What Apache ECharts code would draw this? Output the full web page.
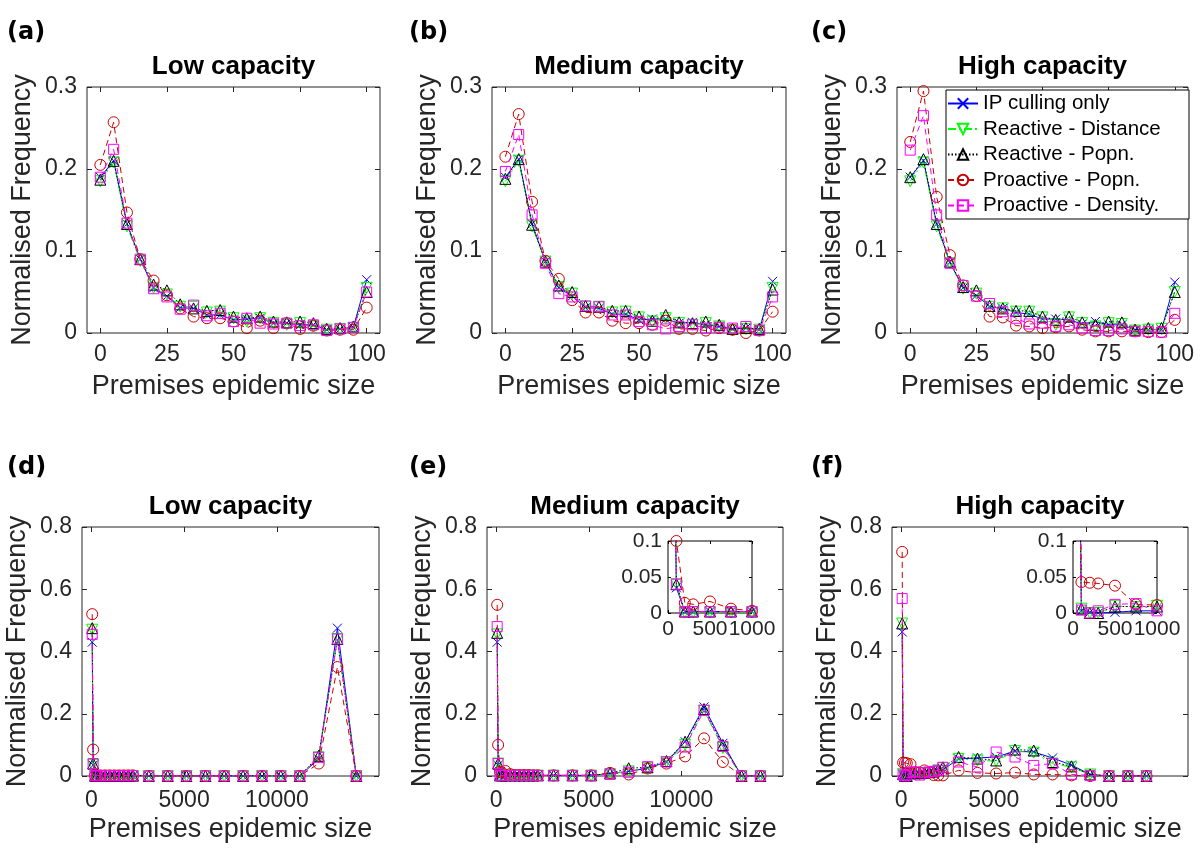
<!DOCTYPE html>
<html><head><meta charset="utf-8">
<script src="https://cdn.jsdelivr.net/npm/echarts@6/dist/echarts.min.js"></script>
<style>html,body{margin:0;padding:0;background:#fff}#c{width:1202px;height:848px}</style>
</head><body><div id="c"></div>
<script>
// ---------- data ----------
const X_TOP = [0,5,10,15,20,25,30,35,40,45,50,55,60,65,70,75,80,85,90,95,100];
const X_BOTTOM = [50,100,200,300,500,750,1000,1250,1500,1750,2000,2250,3100,4120,5130,6150,7160,8180,9200,10210,11230,12250,13260,14280];

const SERIES_NAMES = ['IP culling only','Reactive - Distance','Reactive - Popn.','Proactive - Popn.','Proactive - Density.'];
const PANEL_TITLES = ['Low capacity','Medium capacity','High capacity','Low capacity','Medium capacity','High capacity'];
const PANEL_TAGS = ['(a)','(b)','(c)','(d)','(e)','(f)'];
const X_LABEL = 'Premises epidemic size';
const Y_LABEL = 'Normalised Frequency';
const TOP_X_TICKS = [0,25,50,75,100];
const BOTTOM_X_TICKS = [0,5000,10000];
const INSET_X_TICKS = [0,500,1000];

// (a) low capacity, small epidemics
const A_IP = [0.190,0.210,0.133,0.090,0.055,0.045,0.031,0.030,0.022,0.022,0.016,0.017,0.018,0.012,0.012,0.010,0.010,0.004,0.005,0.007,0.065];
const A_RD = [0.185,0.208,0.130,0.088,0.055,0.047,0.032,0.032,0.025,0.026,0.018,0.014,0.018,0.012,0.010,0.012,0.008,0.004,0.005,0.006,0.055];
const A_RP = [0.187,0.210,0.133,0.090,0.059,0.052,0.035,0.030,0.027,0.028,0.020,0.018,0.020,0.014,0.013,0.014,0.012,0.005,0.006,0.008,0.050];
const A_PP = [0.205,0.257,0.147,0.090,0.064,0.046,0.030,0.020,0.018,0.018,0.014,0.006,0.015,0.006,0.012,0.005,0.009,0.003,0.004,0.004,0.031];
const A_PD = [0.190,0.224,0.134,0.090,0.054,0.044,0.029,0.034,0.021,0.024,0.014,0.018,0.012,0.011,0.012,0.009,0.010,0.003,0.005,0.007,0.050];
// (b) medium capacity, small epidemics
const B_IP = [0.190,0.212,0.133,0.087,0.055,0.045,0.031,0.030,0.023,0.023,0.016,0.017,0.017,0.012,0.013,0.010,0.008,0.005,0.006,0.004,0.063];
const B_RD = [0.185,0.210,0.130,0.087,0.056,0.048,0.032,0.032,0.025,0.026,0.019,0.014,0.018,0.012,0.010,0.012,0.008,0.003,0.005,0.004,0.055];
const B_RP = [0.188,0.212,0.132,0.087,0.058,0.050,0.033,0.032,0.027,0.027,0.020,0.015,0.022,0.013,0.012,0.014,0.010,0.005,0.006,0.005,0.053];
const B_PP = [0.215,0.267,0.160,0.088,0.066,0.040,0.025,0.025,0.015,0.012,0.012,0.010,0.015,0.005,0.005,0.003,0.006,0.004,0.000,0.003,0.026];
const B_PD = [0.197,0.242,0.144,0.085,0.048,0.044,0.033,0.032,0.022,0.022,0.014,0.010,0.005,0.008,0.010,0.006,0.007,0.006,0.008,0.003,0.044];
// (c) high capacity, small epidemics
const C_IP = [0.190,0.210,0.133,0.086,0.055,0.046,0.032,0.030,0.025,0.023,0.017,0.017,0.016,0.011,0.014,0.010,0.010,0.004,0.004,0.004,0.062];
const C_RD = [0.185,0.208,0.130,0.085,0.054,0.048,0.032,0.030,0.026,0.026,0.019,0.010,0.019,0.012,0.008,0.012,0.011,0.003,0.004,0.005,0.050];
const C_RP = [0.190,0.212,0.133,0.087,0.056,0.052,0.033,0.030,0.027,0.027,0.020,0.016,0.020,0.013,0.010,0.014,0.013,0.004,0.006,0.006,0.050];
const C_PP = [0.233,0.295,0.166,0.095,0.058,0.045,0.020,0.019,0.009,0.008,0.006,0.007,0.008,0.004,0.002,0.002,0.002,0.002,0.001,0.001,0.016];
const C_PD = [0.223,0.265,0.144,0.085,0.058,0.045,0.036,0.026,0.018,0.011,0.012,0.008,0.010,0.006,0.003,0.003,0.005,0.002,0.002,0.001,0.024];
// (d) low capacity, all epidemics
const D_IP = [0.430,0.035,0.001,0.001,0.001,0.001,0.001,0.001,0.001,0.001,0.001,0.001,0,0,0,0,0,0,0,0,0,0.055,0.475,0];
const D_RD = [0.470,0.035,0.000,0.000,0.000,0.000,0.000,0.000,0.000,0.000,0.000,0.000,0,0,0,0,0,0,0,0,0,0.060,0.440,0];
const D_RP = [0.475,0.040,0.001,0.001,0.001,0.001,0.001,0.001,0.001,0.001,0.001,0.001,0,0,0,0,0,0,0,0,0,0.065,0.440,0];
const D_PP = [0.520,0.085,0.002,0.002,0.002,0.002,0.002,0.002,0.002,0.002,0.002,0.002,0,0,0,0,0,0,0,0,0,0.040,0.350,0];
const D_PD = [0.455,0.040,0.001,0.001,0.001,0.001,0.001,0.001,0.001,0.001,0.001,0.001,0,0,0,0,0,0,0,0,0,0.060,0.440,0];
// (e) medium capacity, all epidemics
const E_IP = [0.430,0.035,0.002,0.002,0.002,0.002,0.002,0.002,0.002,0.002,0.002,0.002,0.002,0.002,0.002,0.008,0.015,0.025,0.045,0.110,0.222,0.105,0,0];
const E_RD = [0.455,0.040,0.001,0.001,0.001,0.001,0.001,0.001,0.001,0.001,0.001,0.001,0.001,0.001,0.001,0.006,0.015,0.025,0.045,0.100,0.210,0.090,0,0];
const E_RP = [0.460,0.040,0.002,0.002,0.002,0.002,0.002,0.002,0.002,0.002,0.002,0.002,0.002,0.002,0.002,0.008,0.025,0.028,0.048,0.110,0.215,0.100,0,0];
const E_PP = [0.550,0.100,0.014,0.012,0.016,0.006,0.003,0.003,0.003,0.003,0.002,0.002,0.002,0.002,0.002,0.010,0.005,0.024,0.040,0.063,0.121,0.045,0,0];
const E_PD = [0.480,0.040,0.002,0.002,0.002,0.002,0.002,0.002,0.002,0.002,0.002,0.002,0.002,0.002,0.002,0.006,0.012,0.030,0.045,0.093,0.211,0.095,0,0];
// (f) high capacity, all epidemics
const F_IP = [0.463,0.003,0.001,0.000,0.001,0.003,0.003,0.008,0.010,0.012,0.015,0.020,0.055,0.058,0.061,0.080,0.077,0.058,0.035,0.005,0,0,0];
const F_RD = [0.490,0.006,0.000,0.000,0.010,0.008,0.010,0.008,0.010,0.012,0.018,0.025,0.055,0.050,0.048,0.080,0.075,0.040,0.028,0.005,0,0,0];
const F_RP = [0.490,0.006,0.000,0.000,0.009,0.009,0.009,0.010,0.012,0.014,0.020,0.028,0.061,0.056,0.050,0.085,0.082,0.045,0.031,0.005,0,0,0];
const F_PP = [0.720,0.043,0.042,0.041,0.038,0.012,0.011,0.018,0.012,0.003,0.002,0.002,0.018,0.010,0.008,0.011,0.005,0.005,0.002,0,0,0,0];
const F_PD = [0.570,0.004,0.000,0.003,0.012,0.013,0.003,0.010,0.013,0.015,0.018,0.028,0.045,0.029,0.077,0.061,0.034,0.040,0.005,0.002,0,0,0];

// ---------- styles / layout ----------
const FONT = '"Liberation Sans", Arial, Helvetica, sans-serif';
const TAG_FONT = '"DejaVu Sans", sans-serif';
const AX = '#262626';
const STYLE = [
  {color:'#0000ff', dash:'solid',     symbol:'path://M0,0L10,10M0,10L10,0', size:9},
  {color:'#00ff00', dash:[8,3,2,3],   symbol:'path://M0,0L10,0L5,8.7Z',     size:11},
  {color:'#000000', dash:[1.5,2],     symbol:'triangle',                    size:11},
  {color:'#cc0000', dash:[6,4],       symbol:'circle',                      size:11},
  {color:'#ff00ff', dash:[6,4],       symbol:'rect',                        size:10}
];
const GRIDS = [
  {left:87, top:87, width:293, height:246},
  {left:492,top:87, width:294, height:246},
  {left:897,top:87, width:291, height:246},
  {left:82, top:527,width:297, height:249},
  {left:487,top:527,width:296, height:249},
  {left:892,top:527,width:296, height:249},
  {left:668,top:541,width:84,  height:72},
  {left:1073,top:541,width:84, height:72}
];

const PANELS = [
  {g:0, x:X_TOP, ys:[A_IP,A_RD,A_RP,A_PP,A_PD], xr:[-5,105], xt:TOP_X_TICKS, yr:[0,0.3], yi:0.1, xm:10},
  {g:1, x:X_TOP, ys:[B_IP,B_RD,B_RP,B_PP,B_PD], xr:[-5,105], xt:TOP_X_TICKS, yr:[0,0.3], yi:0.1, xm:10},
  {g:2, x:X_TOP, ys:[C_IP,C_RD,C_RP,C_PP,C_PD], xr:[-5,105], xt:TOP_X_TICKS, yr:[0,0.3], yi:0.1, xm:10},
  {g:3, x:X_BOTTOM, ys:[D_IP,D_RD,D_RP,D_PP,D_PD], xr:[-500,15500], xt:BOTTOM_X_TICKS, yr:[0,0.8], yi:0.2, xm:13},
  {g:4, x:X_BOTTOM, ys:[E_IP,E_RD,E_RP,E_PP,E_PD], xr:[-500,15500], xt:BOTTOM_X_TICKS, yr:[0,0.8], yi:0.2, xm:13},
  {g:5, x:X_BOTTOM, ys:[F_IP,F_RD,F_RP,F_PP,F_PD], xr:[-500,15500], xt:BOTTOM_X_TICKS, yr:[0,0.8], yi:0.2, xm:13},
  {g:6, x:X_BOTTOM, ys:[E_IP,E_RD,E_RP,E_PP,E_PD], xr:[0,1000], xt:INSET_X_TICKS, yr:[0,0.1], yi:0.05, xm:6, inset:true},
  {g:7, x:X_BOTTOM, ys:[F_IP,F_RD,F_RP,F_PP,F_PD], xr:[0,1000], xt:INSET_X_TICKS, yr:[0,0.1], yi:0.05, xm:6, inset:true}
];

const zip = (xs, ys) => ys.map((v, i) => [xs[i], v]);
const plain = v => String(v);

const grid = GRIDS.map((g, i) => Object.assign({}, g, {
  show: true, borderColor: i >= 6 ? '#000' : AX, borderWidth: 1, backgroundColor: '#fff', containLabel: false
}));

const xAxis = [], yAxis = [], series = [];
PANELS.forEach((p, k) => {
  const inset = !!p.inset;
  const fs = inset ? 21 : 23;
  const tick = {inside:true, length: inset ? 3 : 5, lineStyle:{color: inset ? '#000' : AX, width:1}};
  const noLine = {show:false, onZero:false};
  const xi = xAxis.length, yi = yAxis.length;
  xAxis.push({
    gridIndex:p.g, type:'value', min:p.xr[0], max:p.xr[1], position:'bottom',
    axisLine:noLine, splitLine:{show:false},
    axisTick:Object.assign({customValues:p.xt}, tick),
    axisLabel:{customValues:p.xt, formatter:plain, fontSize:fs, color:AX, fontFamily:FONT, margin:p.xm,
               showMinLabel:true, showMaxLabel:true, hideOverlap:false},
    name: inset ? '' : X_LABEL, nameLocation:'middle', nameGap:40,
    nameTextStyle:{fontSize:27, color:AX, fontFamily:FONT}
  });
  xAxis.push({
    gridIndex:p.g, type:'value', min:p.xr[0], max:p.xr[1], position:'top',
    axisLine:noLine, splitLine:{show:false}, axisLabel:{show:false},
    axisTick:Object.assign({customValues:p.xt}, tick)
  });
  yAxis.push({
    gridIndex:p.g, type:'value', min:p.yr[0], max:p.yr[1], interval:p.yi, position:'left',
    axisLine:noLine, splitLine:{show:false}, axisTick:tick,
    axisLabel:{fontSize:fs, color:AX, fontFamily:FONT, margin: inset ? 6 : 10, showMaxLabel:true, showMinLabel:true},
    name: inset ? '' : Y_LABEL, nameLocation:'middle', nameGap:51,
    nameTextStyle:{fontSize:27, color:AX, fontFamily:FONT}
  });
  yAxis.push({
    gridIndex:p.g, type:'value', min:p.yr[0], max:p.yr[1], interval:p.yi, position:'right',
    axisLine:noLine, splitLine:{show:false}, axisLabel:{show:false}, axisTick:tick
  });
  p.ys.forEach((ys, s) => {
    const st = STYLE[s];
    series.push({
      type:'line', name:SERIES_NAMES[s], xAxisIndex:xi, yAxisIndex:yi,
      data: zip(p.x, ys), color: st.color,
      symbol: st.symbol, symbolSize: st.size, showAllSymbol:true, clip:true,
      lineStyle:{color:st.color, width:1, type:st.dash},
      itemStyle:{color:'rgba(255,255,255,0)', borderColor:st.color, borderWidth:1},
      emphasis:{disabled:true}, silent:true, z: 2 + s
    });
  });
});

const graphic = [];
PANEL_TITLES.forEach((t, i) => {
  const g = GRIDS[i];
  graphic.push({type:'text', x: g.left + g.width/2, y: g.top - 20,
    style:{text:t, font:'bold 26px ' + FONT, fill:'#000', align:'center', verticalAlign:'middle'}});
});
PANEL_TAGS.forEach((t, i) => {
  const x = [7, 409, 811][i % 3];
  const y = i < 3 ? 33 : 468;
  graphic.push({type:'text', x: x, y: y,
    style:{text:t, font:'bold 24px ' + TAG_FONT, fill:'#000', align:'left', verticalAlign:'middle'}});
});

const option = {
  animation:false,
  backgroundColor:'#fff',
  grid, xAxis, yAxis, series, graphic,
  legend:{
    show:true, orient:'vertical', left:946, top:90, data:SERIES_NAMES,
    itemWidth:30, itemHeight:13, itemGap:4.5, padding:[3,2,3,1],
    borderColor:'#000', borderWidth:1, backgroundColor:'#fff', selectedMode:false,
    textStyle:{fontSize:20.5, color:'#000', fontFamily:FONT, lineHeight:20, width:204, overflow:'none'}
  }
};
const chart = echarts.init(document.getElementById('c'), null, {renderer:'canvas'});
chart.setOption(option);
</script></body></html>
